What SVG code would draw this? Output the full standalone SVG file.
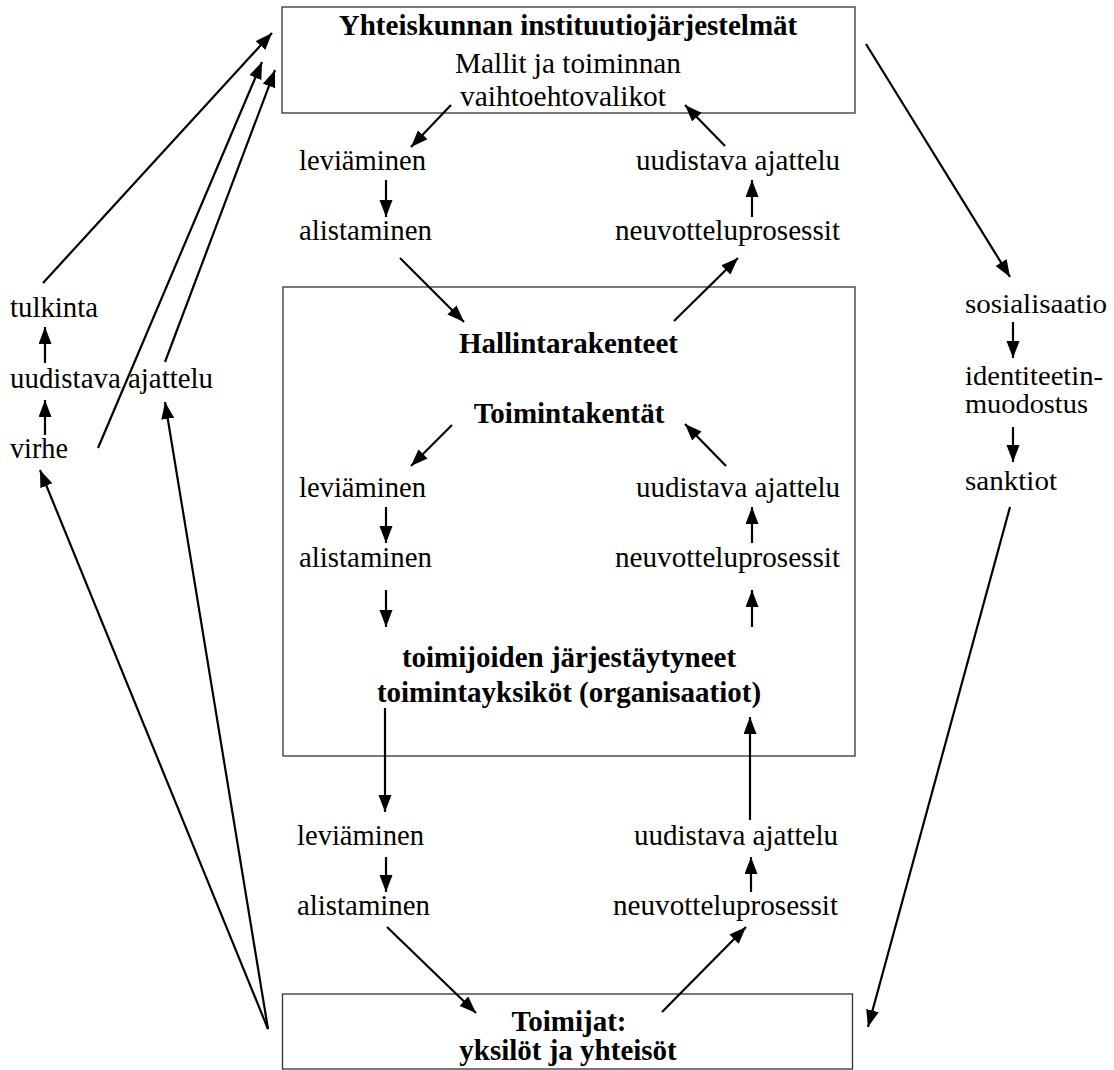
<svg xmlns="http://www.w3.org/2000/svg" width="1114" height="1070" viewBox="0 0 1114 1070">
<style>
text{font-family:"Liberation Serif","Times New Roman",serif;font-size:29px;fill:#000}
.b{font-weight:bold}
.m{text-anchor:middle}
.e{text-anchor:end}
.r{font-size:27px}
.box{fill:#fff;stroke:#333;stroke-width:1.3}
#connectors line{stroke:#000;stroke-width:2.2;marker-end:url(#ah)}
</style>
<defs>
<marker id="ah" markerUnits="userSpaceOnUse" markerWidth="18" markerHeight="14" refX="17" refY="6.5" orient="auto">
<path d="M0,0 L17,6.5 L0,13 z" fill="#000"/>
</marker>
</defs>
<rect width="1114" height="1070" fill="#fff"/>
<g id="top">
<rect class="box" x="282" y="7" width="573" height="106"/>
<text class="b m" x="568" y="35">Yhteiskunnan instituutiojärjestelmät</text>
<text class="m" x="568" y="73" textLength="226" lengthAdjust="spacingAndGlyphs">Mallit ja toiminnan</text>
<text class="m" x="563" y="106" textLength="206" lengthAdjust="spacingAndGlyphs">vaihtoehtovalikot</text>
</g>
<g id="top-left">
<text x="299" y="170" textLength="127" lengthAdjust="spacingAndGlyphs">leviäminen</text>
<text x="299" y="240" textLength="133" lengthAdjust="spacingAndGlyphs">alistaminen</text>
</g>
<g id="top-right">
<text class="e" x="840" y="170" textLength="204" lengthAdjust="spacingAndGlyphs">uudistava ajattelu</text>
<text class="e" x="840" y="240" textLength="225" lengthAdjust="spacingAndGlyphs">neuvotteluprosessit</text>
</g>
<g id="middle">
<rect class="box" x="283" y="287" width="572" height="469"/>
<text class="b m" x="568.5" y="353">Hallintarakenteet</text>
<text class="b m" x="569" y="423">Toimintakentät</text>
<text x="299" y="497" textLength="127" lengthAdjust="spacingAndGlyphs">leviäminen</text>
<text x="299" y="567" textLength="133" lengthAdjust="spacingAndGlyphs">alistaminen</text>
<text class="e" x="840" y="497" textLength="204" lengthAdjust="spacingAndGlyphs">uudistava ajattelu</text>
<text class="e" x="840" y="567" textLength="225" lengthAdjust="spacingAndGlyphs">neuvotteluprosessit</text>
<text class="b m" x="569" y="667">toimijoiden järjestäytyneet</text>
<text class="b m" x="569" y="702">toimintayksiköt (organisaatiot)</text>
</g>
<g id="bottom-labels">
<text x="297" y="845" textLength="127" lengthAdjust="spacingAndGlyphs">leviäminen</text>
<text x="297" y="915" textLength="133" lengthAdjust="spacingAndGlyphs">alistaminen</text>
<text class="e" x="838" y="845" textLength="204" lengthAdjust="spacingAndGlyphs">uudistava ajattelu</text>
<text class="e" x="838" y="915" textLength="225" lengthAdjust="spacingAndGlyphs">neuvotteluprosessit</text>
</g>
<g id="bottom">
<rect class="box" x="282.5" y="994" width="570" height="75"/>
<text class="b m" x="569" y="1031">Toimijat:</text>
<text class="b m" x="568" y="1060">yksilöt ja yhteisöt</text>
</g>
<g id="left">
<text x="10" y="317" textLength="88" lengthAdjust="spacingAndGlyphs">tulkinta</text>
<text x="10" y="388" textLength="203" lengthAdjust="spacingAndGlyphs">uudistava ajattelu</text>
<text x="10" y="458" textLength="58" lengthAdjust="spacingAndGlyphs">virhe</text>
</g>
<g id="right">
<text class="r" x="965" y="313" textLength="142" lengthAdjust="spacingAndGlyphs">sosialisaatio</text>
<text class="r" x="965" y="385" textLength="138" lengthAdjust="spacingAndGlyphs">identiteetin-</text>
<text class="r" x="965" y="413" textLength="123" lengthAdjust="spacingAndGlyphs">muodostus</text>
<text class="r" x="965" y="490" textLength="92" lengthAdjust="spacingAndGlyphs">sanktiot</text>
</g>
<g id="connectors">
<line x1="451" y1="105" x2="411" y2="147"/>
<line x1="725" y1="146" x2="685" y2="105"/>
<line x1="386" y1="180" x2="386" y2="217"/>
<line x1="752" y1="217" x2="752" y2="180"/>
<line x1="400" y1="258" x2="464" y2="322"/>
<line x1="674" y1="321" x2="738" y2="258"/>
<line x1="452" y1="425" x2="411" y2="466"/>
<line x1="726" y1="466" x2="685" y2="424"/>
<line x1="386" y1="507" x2="386" y2="543"/>
<line x1="752" y1="543" x2="752" y2="507"/>
<line x1="386" y1="590" x2="386" y2="627"/>
<line x1="752" y1="627" x2="752" y2="590"/>
<line x1="385" y1="708" x2="385" y2="812"/>
<line x1="750" y1="820" x2="750" y2="717"/>
<line x1="386" y1="857" x2="386" y2="892"/>
<line x1="751" y1="892" x2="751" y2="857"/>
<line x1="387" y1="927" x2="476" y2="1013"/>
<line x1="662" y1="1012" x2="746" y2="927"/>
<line x1="43" y1="283" x2="272" y2="33"/>
<line x1="98" y1="448" x2="262" y2="62"/>
<line x1="165" y1="362" x2="275" y2="70"/>
<line x1="45" y1="363" x2="45" y2="327"/>
<line x1="45" y1="435" x2="45" y2="400"/>
<line x1="268" y1="1029" x2="40" y2="470"/>
<line x1="268" y1="1029" x2="165" y2="402"/>
<line x1="866" y1="44" x2="1010" y2="277"/>
<line x1="1013" y1="322" x2="1013" y2="358"/>
<line x1="1013" y1="427" x2="1013" y2="462"/>
<line x1="1010" y1="507" x2="868" y2="1027"/>
</g>
</svg>
